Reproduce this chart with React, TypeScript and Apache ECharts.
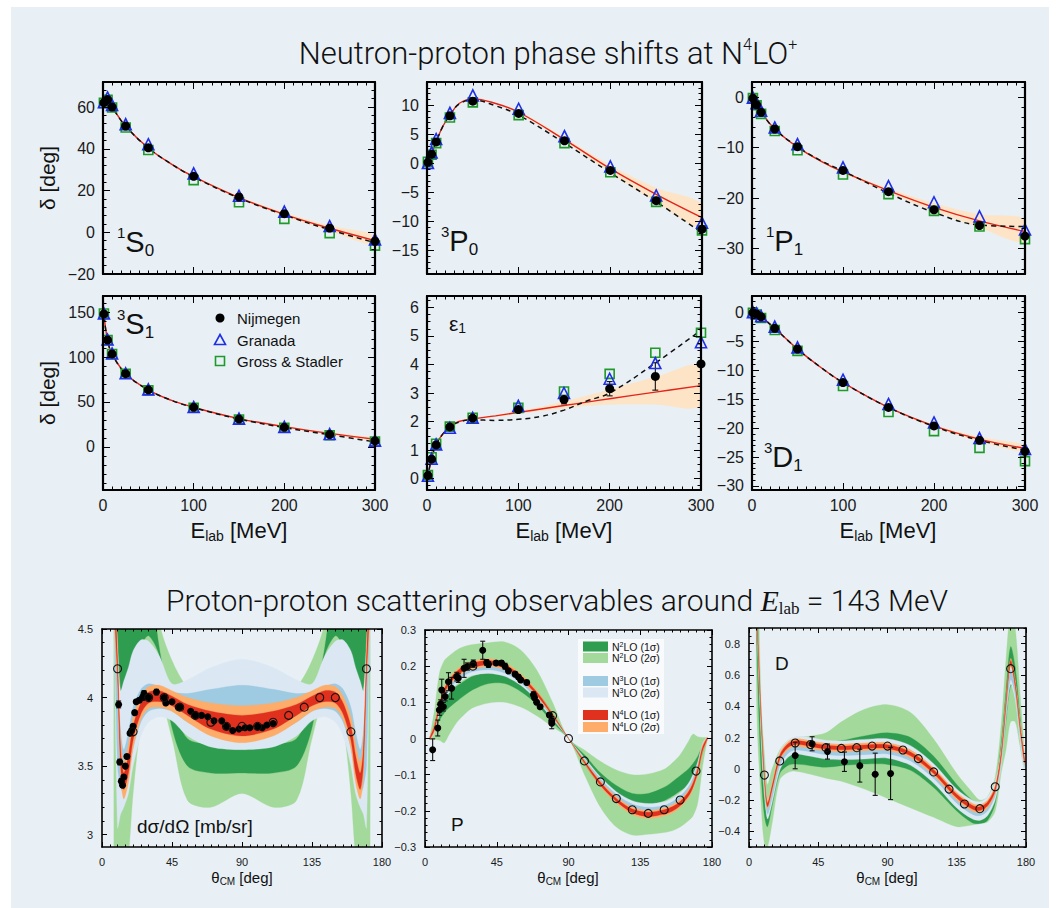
import React, { useEffect, useRef } from "react";
import * as echarts from "echarts";

const SANS = "'Liberation Sans', Helvetica, Arial, sans-serif";
const LIGHT = "Roboto, 'Liberation Sans', sans-serif";
const SERIF = "'Liberation Serif', 'DejaVu Serif', serif";

// ================= Neutron-proton phase shifts (top) =================
const E_PWA = [1, 5, 10, 25, 50, 100, 150, 200, 250, 300];

// 1S0
const S10_NIJ = [62.1, 63.6, 60.0, 50.9, 40.5, 26.8, 16.9, 8.9, 2.0, -4.3];
const S10_GRA = [62.3, 64.6, 61.0, 51.8, 42.2, 28.2, 17.5, 9.9, 3.0, -3.4];
const S10_GS = [62.0, 63.5, 59.8, 50.2, 39.4, 25.0, 14.4, 6.4, -0.4, -6.4];
const S10_E = [1, 5, 10, 25, 50, 75, 100, 150, 200, 250, 300];
const S10_RED = [62.0, 63.6, 60.0, 50.8, 40.4, 32.8, 26.6, 16.6, 8.6, 1.9, -4.0];
const S10_DASH = [62.0, 63.6, 60.0, 50.8, 40.4, 32.8, 26.5, 16.4, 8.3, 1.2, -5.0];
const S10_LO = [62.0, 63.6, 60.0, 50.8, 40.3, 32.6, 26.3, 16.1, 7.8, 0.6, -6.3];
const S10_HI = [62.0, 63.6, 60.0, 50.8, 40.5, 33.0, 26.9, 17.1, 9.4, 3.2, -1.6];

// 3P0
const P30_NIJ = [0.2, 1.6, 3.7, 8.2, 10.7, 8.6, 3.9, -1.2, -6.4, -11.3];
const P30_GRA = [0.1, 1.9, 4.2, 8.7, 11.7, 9.4, 4.7, -0.5, -5.5, -10.2];
const P30_GS = [0.3, 1.5, 3.5, 7.9, 10.5, 8.3, 3.5, -1.5, -6.6, -11.5];
const P30_E = [0, 2, 5, 10, 17, 25, 35, 50, 75, 100, 150, 200, 250, 300];
const P30_RED = [0, 0.6, 1.7, 3.7, 6.3, 8.3, 10.3, 11.1, 10.3, 8.8, 4.1, -0.9, -5.3, -9.3];
const P30_DASH = [0, 0.6, 1.7, 3.7, 6.3, 8.3, 10.2, 10.9, 9.9, 8.3, 3.5, -1.6, -6.6, -11.9];
const P30_LO = [0, 0.6, 1.7, 3.7, 6.3, 8.3, 10.3, 11.0, 10.2, 8.6, 3.8, -1.6, -6.7, -11.1];
const P30_HI = [0, 0.6, 1.7, 3.7, 6.3, 8.3, 10.3, 11.2, 10.4, 9.0, 4.4, -0.3, -4.2, -7.0];

// 1P1
const P11_NIJ = [-0.2, -1.5, -3.0, -6.3, -9.8, -14.5, -18.7, -22.3, -25.4, -27.5];
const P11_GRA = [-0.1, -1.2, -2.7, -6.0, -9.3, -13.9, -17.6, -20.8, -23.6, -26.2];
const P11_GS = [-0.2, -1.6, -3.3, -6.7, -10.5, -15.3, -19.2, -22.5, -25.6, -28.1];
const P11_E = [0, 5, 10, 25, 50, 75, 100, 150, 200, 250, 300];
const P11_RED = [0, -1.5, -3.0, -6.3, -9.9, -12.6, -14.8, -18.5, -21.8, -24.5, -26.6];
const P11_DASH = [0, -1.5, -3.0, -6.3, -9.8, -12.5, -14.6, -19.0, -22.8, -25.3, -25.6];
const P11_LO = [0, -1.5, -3.0, -6.3, -10.0, -12.8, -15.0, -18.9, -22.5, -25.8, -28.7];
const P11_HI = [0, -1.5, -3.0, -6.3, -9.8, -12.4, -14.6, -18.1, -21.0, -23.2, -24.2];

// 3S1
const S31_NIJ = [148, 119, 103.5, 81.5, 63.5, 44, 31, 21.8, 13.8, 6.6];
const S31_GRA = [148.5, 119.5, 104, 82, 64, 44.5, 31.5, 22.3, 14.3, 7.0];
const S31_GS = [148.5, 119, 103.5, 81.5, 63, 43.5, 30.5, 21.3, 13, 6];
const S31_E = [0.3, 1, 5, 10, 25, 50, 75, 100, 150, 200, 250, 300];
const S31_RED = [165, 148, 119, 103.5, 81.5, 63.5, 52, 44, 31.5, 22.5, 15, 8.5];
const S31_DASH = [165, 148, 119, 103.5, 81.5, 63.5, 52, 43.8, 31, 21.5, 13.5, 5.5];
const S31_LO = [165, 148, 119, 103.5, 81.5, 63.4, 51.8, 43.7, 31, 21.8, 14, 7];
const S31_HI = [165, 148, 119, 103.5, 81.5, 63.6, 52.2, 44.3, 32, 23.2, 16, 10];

// epsilon1
const EP1_NIJ = [0.11, 0.68, 1.18, 1.81, 2.12, 2.42, 2.77, 3.15, 3.58, 4.02];
const EP1_ERR = [0, 0, 0, 0, 0, 0.05, 0.15, 0.25, 0.48, 0.7];
const EP1_GRA = [0.1, 0.7, 1.2, 1.78, 2.13, 2.55, 3.0, 3.5, 4.05, 4.78];
const EP1_GS = [0.12, 0.75, 1.22, 1.82, 2.13, 2.48, 3.05, 3.67, 4.41, 5.11];
const EP1_E = [0, 1, 5, 10, 17, 25, 35, 50, 75, 100, 125, 150, 175, 200, 250, 300];
const EP1_RED = [0, 0.12, 0.7, 1.2, 1.55, 1.82, 2.0, 2.09, 2.2, 2.32, 2.44, 2.56, 2.68, 2.8, 3.03, 3.26];
const EP1_DASH = [0, 0.12, 0.7, 1.2, 1.55, 1.82, 1.98, 2.06, 2.04, 2.08, 2.18, 2.4, 2.72, 3.0, 4.05, 5.2];
const EP1_LO = [0, 0.12, 0.7, 1.2, 1.55, 1.82, 2.0, 2.08, 2.17, 2.27, 2.37, 2.46, 2.55, 2.6, 2.6, 2.56];
const EP1_HI = [0, 0.12, 0.7, 1.2, 1.55, 1.82, 2.0, 2.1, 2.23, 2.37, 2.52, 2.7, 2.9, 3.12, 3.55, 3.96];

// 3D1
const D31_NIJ = [0, -0.2, -0.7, -2.7, -6.3, -12.1, -16.4, -19.6, -22.1, -24.0];
const D31_GRA = [0.1, -0.1, -0.6, -2.4, -6.0, -11.6, -15.8, -19.0, -21.7, -23.6];
const D31_GS = [0, -0.3, -0.9, -3.0, -6.6, -12.7, -17.2, -20.5, -23.4, -25.7];
const D31_E = [0, 5, 10, 25, 50, 75, 100, 150, 200, 250, 300];
const D31_RED = [0, -0.2, -0.7, -2.7, -6.3, -9.4, -12.1, -16.4, -19.6, -21.9, -23.5];
const D31_DASH = [0, -0.2, -0.7, -2.7, -6.3, -9.4, -12.1, -16.4, -19.7, -22.1, -23.8];
const D31_LO = [0, -0.2, -0.7, -2.7, -6.3, -9.4, -12.1, -16.5, -19.8, -22.3, -24.1];
const D31_HI = [0, -0.2, -0.7, -2.7, -6.3, -9.4, -12.1, -16.3, -19.4, -21.5, -22.9];

// ================= Proton-proton observables (bottom) =================
// differential cross section
const XS_TH = [8, 10, 12, 14, 17, 20, 25, 30, 37, 45, 55, 70, 90, 110, 125, 135, 143, 150, 155, 160, 163, 166, 168, 170, 172];
const XS_N2_LO2 = [1.5, 2.3, 2.6, 2.7, 2.85, 3.3, 3.8, 4.0, 4.0, 3.7, 3.25, 3.2, 3.3, 3.2, 3.25, 3.7, 4.0, 4.0, 3.8, 3.3, 2.85, 2.7, 2.6, 2.3, 1.5];
const XS_N2_LO1 = [5.0, 4.2, 4.0, 4.05, 4.12, 4.25, 4.38, 4.45, 4.3, 3.78, 3.5, 3.45, 3.45, 3.45, 3.5, 3.78, 4.3, 4.45, 4.38, 4.25, 4.12, 4.05, 4.0, 4.2, 5.0];
const XS_N2_HI1 = [5.5, 5.5, 5.5, 5.5, 5.5, 5.5, 5.5, 5.0, 4.35, 3.95, 3.7, 3.66, 3.65, 3.66, 3.7, 3.95, 4.35, 5.0, 5.5, 5.5, 5.5, 5.5, 5.5, 5.5, 5.5];
const XS_N2_HI2 = [6.5, 6.5, 6.5, 6.5, 6.5, 6.5, 6.5, 5.6, 4.55, 4.27, 4.07, 3.9, 3.88, 3.9, 4.07, 4.27, 4.55, 5.6, 6.5, 6.5, 6.5, 6.5, 6.5, 6.5, 6.5];
const XS_N3_LO2 = [4.5, 3.05, 3.15, 3.2, 3.3, 3.5, 3.72, 3.82, 3.86, 3.83, 3.72, 3.64, 3.62, 3.64, 3.72, 3.83, 3.86, 3.82, 3.72, 3.5, 3.3, 3.2, 3.15, 3.05, 4.5];
const XS_N3_LO1 = [4.6, 3.5, 3.35, 3.3, 3.42, 3.63, 3.82, 3.9, 3.92, 3.9, 3.82, 3.74, 3.7, 3.74, 3.82, 3.9, 3.92, 3.9, 3.82, 3.63, 3.42, 3.3, 3.35, 3.5, 4.6];
const XS_N3_HI1 = [4.75, 4.1, 3.75, 3.62, 3.75, 3.93, 4.06, 4.1, 4.08, 4.04, 4.03, 4.06, 4.09, 4.06, 4.03, 4.04, 4.08, 4.1, 4.06, 3.93, 3.75, 3.62, 3.75, 4.1, 4.75];
const XS_N3_HI2 = [4.85, 4.4, 4.05, 4.12, 4.22, 4.34, 4.42, 4.41, 4.3, 4.1, 4.13, 4.22, 4.28, 4.22, 4.13, 4.1, 4.3, 4.41, 4.42, 4.34, 4.22, 4.12, 4.05, 4.4, 4.85];
const XS_N4_LO2 = [4.55, 4.1, 3.42, 3.26, 3.38, 3.63, 3.84, 3.92, 3.93, 3.9, 3.82, 3.72, 3.67, 3.72, 3.82, 3.9, 3.93, 3.92, 3.84, 3.63, 3.38, 3.26, 3.42, 4.1, 4.55];
const XS_N4_LO1 = [4.65, 4.15, 3.5, 3.33, 3.45, 3.69, 3.88, 3.96, 3.97, 3.94, 3.87, 3.77, 3.72, 3.77, 3.87, 3.94, 3.97, 3.96, 3.88, 3.69, 3.45, 3.33, 3.5, 4.15, 4.65];
const XS_N4_HI1 = [4.8, 4.27, 3.62, 3.45, 3.58, 3.79, 3.96, 4.04, 4.05, 4.01, 3.95, 3.9, 3.87, 3.9, 3.95, 4.01, 4.05, 4.04, 3.96, 3.79, 3.58, 3.45, 3.62, 4.27, 4.8];
const XS_N4_HI2 = [4.9, 4.33, 3.7, 3.53, 3.66, 3.86, 4.01, 4.08, 4.09, 4.05, 4.0, 3.96, 3.94, 3.96, 4.0, 4.05, 4.09, 4.08, 4.01, 3.86, 3.66, 3.53, 3.7, 4.33, 4.9];
const XS_EXP_TH = [10.7, 11.4, 12.4, 13.2, 14, 15, 16, 18, 19, 20, 21, 22, 24, 26, 27, 28, 30, 35, 40, 41, 45, 49, 50, 57, 60, 64, 68, 72, 77, 80, 84, 88, 92, 95, 100, 103, 106, 110];
const XS_EXP = [3.95, 3.53, 3.39, 3.36, 3.42, 3.5, 3.57, 3.74, 3.76, 3.79, 3.89, 3.97, 3.98, 4.0, 4.03, 4.01, 4.0, 4.04, 4.0, 3.96, 3.97, 3.93, 3.93, 3.9, 3.87, 3.87, 3.86, 3.83, 3.83, 3.79, 3.76, 3.77, 3.78, 3.78, 3.79, 3.78, 3.8, 3.81];
const XS_EXP_ERR = [0.025, 0.02, 0.02, 0.015, 0.015, 0.015, 0.015, 0.015, 0.015, 0.015, 0.015, 0.015, 0.015, 0.02, 0.02, 0.015, 0.015, 0.02, 0.015, 0.015, 0.01, 0.01, 0.01, 0.01, 0.01, 0.01, 0.01, 0.01, 0.01, 0.01, 0.01, 0.01, 0.01, 0.01, 0.01, 0.01, 0.01, 0.01];
const XS_PWA_TH = [10, 20, 30, 40, 50, 60, 70, 80, 90, 100, 110, 120, 130, 140, 150, 160, 170];
const XS_PWA = [4.21, 3.75, 4.0, 4.0, 3.93, 3.87, 3.82, 3.79, 3.79, 3.79, 3.82, 3.87, 3.93, 4.0, 4.0, 3.75, 4.21];

// analyzing power P
const P_TH = [3, 6, 9, 12, 15, 20, 25, 30, 40, 50, 60, 70, 80, 90, 100, 110, 120, 130, 140, 150, 155, 160, 165, 168, 171, 174, 177];
const P_N2_LO2 = [-0.002, -0.003, -0.005, -0.012, 0.01, 0.045, 0.068, 0.085, 0.098, 0.1, 0.087, 0.063, 0.032, 0, -0.1, -0.19, -0.245, -0.267, -0.265, -0.26, -0.255, -0.245, -0.228, -0.215, -0.18, -0.08, -0.003];
const P_N2_LO1 = [0.0, 0.02, 0.05, 0.07, 0.085, 0.103, 0.12, 0.135, 0.152, 0.152, 0.13, 0.095, 0.045, 0, -0.07, -0.13, -0.165, -0.182, -0.183, -0.172, -0.16, -0.145, -0.13, -0.115, -0.09, -0.04, -0.002];
const P_N2_HI1 = [0.002, 0.04, 0.09, 0.115, 0.13, 0.145, 0.16, 0.172, 0.183, 0.182, 0.165, 0.13, 0.07, 0, -0.045, -0.095, -0.13, -0.152, -0.152, -0.135, -0.12, -0.103, -0.085, -0.07, -0.05, -0.02, 0.0];
const P_N2_HI2 = [0.003, 0.08, 0.18, 0.215, 0.228, 0.245, 0.255, 0.26, 0.265, 0.267, 0.245, 0.19, 0.1, 0, -0.032, -0.063, -0.087, -0.1, -0.098, -0.085, -0.068, -0.045, -0.01, 0.012, 0.005, 0.003, 0.002];
const P_N3_LO2 = [-0.005, 0.015, 0.065, 0.1, 0.125, 0.15, 0.165, 0.175, 0.18, 0.172, 0.147, 0.106, 0.053, 0, -0.066, -0.126, -0.175, -0.207, -0.217, -0.21, -0.202, -0.187, -0.162, -0.14, -0.098, -0.036, -0.004];
const P_N3_LO1 = [-0.003, 0.02, 0.073, 0.11, 0.135, 0.16, 0.175, 0.185, 0.19, 0.181, 0.154, 0.111, 0.057, 0, -0.063, -0.121, -0.168, -0.198, -0.208, -0.201, -0.193, -0.178, -0.153, -0.13, -0.09, -0.03, -0.002];
const P_N3_HI1 = [0.002, 0.03, 0.09, 0.13, 0.153, 0.178, 0.193, 0.201, 0.208, 0.198, 0.168, 0.121, 0.063, 0, -0.057, -0.111, -0.154, -0.181, -0.19, -0.185, -0.175, -0.16, -0.135, -0.11, -0.073, -0.02, 0.003];
const P_N3_HI2 = [0.004, 0.036, 0.098, 0.14, 0.162, 0.187, 0.202, 0.21, 0.217, 0.207, 0.175, 0.126, 0.066, 0, -0.053, -0.106, -0.147, -0.172, -0.18, -0.175, -0.165, -0.15, -0.125, -0.1, -0.065, -0.015, 0.005];
const P_N4_LO2 = [-0.004, 0.02, 0.079, 0.119, 0.144, 0.169, 0.184, 0.192, 0.199, 0.19, 0.161, 0.117, 0.06, 0, -0.07, -0.133, -0.179, -0.21, -0.221, -0.214, -0.206, -0.191, -0.166, -0.141, -0.101, -0.04, -0.004];
const P_N4_LO1 = [-0.002, 0.025, 0.084, 0.124, 0.149, 0.174, 0.189, 0.197, 0.204, 0.195, 0.166, 0.121, 0.063, 0, -0.067, -0.129, -0.174, -0.205, -0.216, -0.209, -0.201, -0.186, -0.161, -0.136, -0.096, -0.035, -0.002];
const P_N4_HI1 = [0.002, 0.035, 0.096, 0.136, 0.161, 0.186, 0.201, 0.209, 0.216, 0.205, 0.174, 0.129, 0.067, 0, -0.063, -0.121, -0.166, -0.195, -0.204, -0.197, -0.189, -0.174, -0.149, -0.124, -0.084, -0.025, 0.002];
const P_N4_HI2 = [0.004, 0.04, 0.101, 0.141, 0.166, 0.191, 0.206, 0.214, 0.221, 0.21, 0.179, 0.133, 0.07, 0, -0.06, -0.117, -0.161, -0.19, -0.199, -0.192, -0.184, -0.169, -0.144, -0.119, -0.079, -0.02, 0.004];
const P_EXP_TH = [4.8, 8, 9, 9.8, 10.5, 11.5, 12.6, 14.7, 16.7, 19.9, 20.9, 24.5, 26.6, 30.3, 36.2, 38.7, 39.8, 44.6, 48, 50.2, 52.3, 56.5, 58.6, 60, 63.8, 68, 68.7, 70, 72.2, 78, 79.5, 79.5];
const P_EXP = [-0.031, 0.029, 0.079, 0.095, 0.134, 0.088, 0.116, 0.157, 0.139, 0.171, 0.167, 0.194, 0.199, 0.207, 0.244, 0.21, 0.205, 0.209, 0.209, 0.2, 0.187, 0.178, 0.17, 0.162, 0.155, 0.121, 0.113, 0.1, 0.088, 0.065, 0.049, 0.042];
const P_EXP_ERR = [0.03, 0.022, 0.015, 0.012, 0.03, 0.012, 0.012, 0.025, 0.03, 0.012, 0.012, 0.025, 0.01, 0.01, 0.025, 0.008, 0.008, 0.006, 0.006, 0.008, 0.006, 0.006, 0.006, 0.006, 0.006, 0.008, 0.006, 0.006, 0.006, 0.006, 0.012, 0.015];
const P_PWA_TH = [30, 80, 90, 100, 110, 120, 130, 140, 150, 160, 170];
const P_PWA = [0.2, 0.063, 0, -0.062, -0.12, -0.166, -0.197, -0.207, -0.197, -0.17, -0.09];

// depolarization D
const D_TH = [5, 8, 10, 12, 15, 20, 25, 30, 40, 50, 60, 75, 90, 105, 120, 135, 145, 150, 155, 160, 164, 167, 170, 173, 176, 179];
const D_N2_LO2 = [0.4, -0.25, -0.48, -0.5, -0.35, -0.07, -0.025, -0.015, -0.035, -0.06, -0.08, -0.13, -0.19, -0.25, -0.31, -0.37, -0.36, -0.35, -0.34, -0.27, -0.02, 0.12, 0.3, 0.3, 0.15, -0.01];
const D_N2_LO1 = [0.8, -0.05, -0.3, -0.37, -0.24, -0.03, 0.02, 0.03, 0.02, 0.01, 0.02, 0.03, 0.028, -0.01, -0.12, -0.27, -0.345, -0.35, -0.33, -0.22, 0.05, 0.3, 0.53, 0.5, 0.25, 0.02];
const D_N2_HI1 = [1.2, 0.1, -0.2, -0.3, -0.15, 0.05, 0.13, 0.16, 0.17, 0.17, 0.18, 0.21, 0.23, 0.2, 0.08, -0.1, -0.2, -0.22, -0.2, -0.1, 0.18, 0.5, 0.78, 0.65, 0.35, 0.05];
const D_N2_HI2 = [1.5, 0.4, 0.1, -0.1, 0.0, 0.12, 0.18, 0.2, 0.21, 0.23, 0.3, 0.38, 0.41, 0.36, 0.19, -0.03, -0.15, -0.2, -0.18, -0.05, 0.3, 0.7, 1.0, 0.9, 0.5, 0.1];
const D_N3_LO2 = [0.94, 0.19, -0.14, -0.32, -0.22, -0.01, 0.07, 0.095, 0.08, 0.062, 0.058, 0.062, 0.068, 0.022, -0.092, -0.25, -0.32, -0.33, -0.3, -0.2, 0.02, 0.32, 0.54, 0.44, 0.19, -0.02];
const D_N3_LO1 = [0.97, 0.22, -0.11, -0.29, -0.19, 0.02, 0.095, 0.12, 0.108, 0.09, 0.085, 0.09, 0.095, 0.05, -0.062, -0.22, -0.29, -0.3, -0.27, -0.17, 0.05, 0.35, 0.57, 0.47, 0.22, 0.01];
const D_N3_HI1 = [1.03, 0.28, -0.05, -0.23, -0.13, 0.08, 0.155, 0.18, 0.172, 0.154, 0.151, 0.16, 0.165, 0.12, 0.002, -0.16, -0.23, -0.24, -0.21, -0.11, 0.11, 0.41, 0.63, 0.53, 0.28, 0.07];
const D_N3_HI2 = [1.06, 0.31, -0.02, -0.2, -0.1, 0.11, 0.18, 0.205, 0.2, 0.182, 0.178, 0.188, 0.192, 0.148, 0.032, -0.13, -0.2, -0.21, -0.18, -0.08, 0.14, 0.44, 0.66, 0.56, 0.31, 0.1];
const D_N4_LO2 = [0.975, 0.275, -0.075, -0.255, -0.145, 0.05, 0.12, 0.143, 0.13, 0.113, 0.108, 0.115, 0.117, 0.07, -0.043, -0.2, -0.27, -0.28, -0.25, -0.155, 0.075, 0.395, 0.655, 0.515, 0.255, 0.025];
const D_N4_LO1 = [0.988, 0.288, -0.062, -0.242, -0.132, 0.063, 0.133, 0.156, 0.143, 0.126, 0.121, 0.128, 0.13, 0.083, -0.03, -0.187, -0.257, -0.267, -0.237, -0.142, 0.088, 0.408, 0.668, 0.528, 0.268, 0.038];
const D_N4_HI1 = [1.012, 0.312, -0.038, -0.218, -0.108, 0.087, 0.157, 0.18, 0.167, 0.15, 0.145, 0.152, 0.154, 0.107, -0.006, -0.163, -0.233, -0.243, -0.213, -0.118, 0.112, 0.432, 0.692, 0.552, 0.292, 0.062];
const D_N4_HI2 = [1.025, 0.325, -0.025, -0.205, -0.095, 0.1, 0.17, 0.193, 0.18, 0.163, 0.158, 0.165, 0.167, 0.12, 0.007, -0.15, -0.22, -0.23, -0.2, -0.105, 0.125, 0.445, 0.705, 0.565, 0.305, 0.075];
const D_EXP_TH = [30, 41, 51, 62, 72, 82, 92];
const D_EXP = [0.085, 0.16, 0.11, 0.045, 0.02, -0.035, -0.03];
const D_EXP_ERR = [0.085, 0.045, 0.048, 0.062, 0.105, 0.135, 0.167];
const D_PWA_TH = [10, 20, 30, 40, 50, 60, 70, 80, 90, 100, 110, 120, 130, 140, 150, 160, 170];
const D_PWA = [-0.04, 0.05, 0.165, 0.155, 0.135, 0.13, 0.135, 0.145, 0.145, 0.12, 0.065, -0.02, -0.13, -0.225, -0.255, -0.115, 0.64];

// tick labels & legends
const E_TICKS = [0, 100, 200, 300];
const TH_TICKS = [0, 45, 90, 135, 180];
const LEGEND_PWA = ["Nijmegen", "Granada", "Gross & Stadler"];
const LEGEND_ORDERS = [
  ["N", "2", "LO (1σ)"],
  ["N", "2", "LO (2σ)"],
  ["N", "3", "LO (1σ)"],
  ["N", "3", "LO (2σ)"],
  ["N", "4", "LO (1σ)"],
  ["N", "4", "LO (2σ)"],
];

const COL = {
  bg: "#e8f0f6",
  red: "#e3241b",
  band: "#fde4c6",
  blue: "#1f2fe6",
  green: "#1e9a28",
  n2a: "#2f9d4f",
  n2b: "#a3d99b",
  n3a: "#9ecae2",
  n3b: "#dbe8f4",
  n4a: "#e0311f",
  n4b: "#fdad69",
};

function seq(a: number, b: number, s: number): number[] {
  const out: number[] = [];
  const n = Math.round((b - a) / s);
  for (let i = 0; i <= n; i++) out.push(Math.round((a + i * s) * 1e6) / 1e6);
  return out;
}
const pts = (xs: number[], ys: number[]) => xs.map((x, i) => [x, ys[i]]);
const fmt = (v: number) => (v < 0 ? "\u2212" + String(Math.abs(v)) : String(v));

function buildOption() {
  const grids: any[] = [];
  const xAxes: any[] = [];
  const yAxes: any[] = [];
  const series: any[] = [];
  const graphic: any[] = [];

  function mkAxes(dim: string, g: number, min: number, max: number, major: number[], minor: number[], labels: boolean, fs: number, lw: number, tl: number, tm: number, margin: number) {
    const arr = dim === "x" ? xAxes : yAxes;
    const idx = arr.length;
    const p1 = dim === "x" ? "bottom" : "left";
    const p2 = dim === "x" ? "top" : "right";
    const mj = major.filter((v) => v >= min - 1e-9 && v <= max + 1e-9);
    const mn = minor.filter((v) => v >= min - 1e-9 && v <= max + 1e-9);
    const base = { type: "value", gridIndex: g, min, max, splitLine: { show: false }, splitArea: { show: false }, axisPointer: { show: false }, silent: true, z: 6 };
    const line = { show: true, onZero: false, lineStyle: { color: "#000", width: lw } };
    const noLine = { show: false, onZero: false };
    const tick = (vals: number[], len: number) => ({ show: true, inside: true, length: len, customValues: vals, lineStyle: { color: "#000", width: 1 } });
    arr.push({ ...base, position: p1, axisLine: line, axisTick: tick(mj, tl), axisLabel: { show: labels, customValues: mj, fontSize: fs, color: "#1a1a1a", fontFamily: SANS, margin, formatter: fmt } });
    arr.push({ ...base, position: p1, axisLine: noLine, axisTick: tick(mn, tm), axisLabel: { show: false } });
    arr.push({ ...base, position: p2, axisLine: line, axisTick: tick(mj, tl), axisLabel: { show: false } });
    arr.push({ ...base, position: p2, axisLine: noLine, axisTick: tick(mn, tm), axisLabel: { show: false } });
    return idx;
  }

  function panel(box: number[], xr: number[], xMajor: number[], xMinor: number[], xLabels: boolean, yr: number[], yMajor: number[], yMinor: number[], small: boolean) {
    const g = grids.length;
    grids.push({ left: box[0], top: box[1], width: box[2], height: box[3], containLabel: false, outerBoundsMode: "none", show: false });
    const fs = small ? 11 : 16;
    const lw = small ? 1.6 : 2.2;
    const tl = small ? 5 : 7;
    const tm = small ? 2.5 : 3.5;
    const xi = mkAxes("x", g, xr[0], xr[1], xMajor, xMinor, xLabels, fs, lw, tl, tm, small ? 9 : 7);
    const yi = mkAxes("y", g, yr[0], yr[1], yMajor, yMinor, true, fs, lw, tl, tm, small ? 9 : 8);
    return { xi, yi };
  }

  // uncertainty band drawn as one smoothed polygon through the library's coordinate mapping
  function band(ax: any, xs: number[], lo: number[], hi: number[], color: string, smooth: number) {
    series.push({
      type: "custom",
      xAxisIndex: ax.xi,
      yAxisIndex: ax.yi,
      silent: true,
      clip: true,
      z: 1,
      encode: { x: 0, y: [1, 2] },
      data: xs.map((x, i) => [x, lo[i], hi[i]]),
      renderItem: (params: any, api: any) => {
        if (params.dataIndex !== 0) return null;
        const up = xs.map((x, i) => api.coord([x, hi[i]]));
        const dn = xs.map((x, i) => api.coord([x, lo[i]])).reverse();
        return { type: "polygon", shape: { points: up.concat(dn), smooth }, style: { fill: color, stroke: color, lineWidth: 0.3 } };
      },
    });
  }

  function curve(ax: any, xs: number[], ys: number[], color: string, width: number, type: any) {
    series.push({ type: "line", xAxisIndex: ax.xi, yAxisIndex: ax.yi, data: pts(xs, ys), smooth: 0.4, symbol: "none", showSymbol: false, silent: true, clip: true, z: 3, lineStyle: { color, width, type }, emphasis: { disabled: true } });
  }

  function marks(ax: any, xs: number[], ys: number[], symbol: string, size: number, fill: string, stroke: string, bw: number, z: number) {
    series.push({ type: "scatter", xAxisIndex: ax.xi, yAxisIndex: ax.yi, data: pts(xs, ys), symbol, symbolSize: size, silent: true, z, emphasis: { disabled: true }, itemStyle: { color: fill, borderColor: stroke, borderWidth: bw, opacity: 1 } });
  }

  function errbars(ax: any, xs: number[], ys: number[], es: number[], cap: number) {
    const data: number[][] = [];
    xs.forEach((x, i) => {
      if (es[i] > 0) data.push([x, ys[i], es[i]]);
    });
    series.push({
      type: "custom",
      xAxisIndex: ax.xi,
      yAxisIndex: ax.yi,
      silent: true,
      clip: true,
      z: 4,
      encode: { x: 0, y: 1 },
      data,
      renderItem: (params: any, api: any) => {
        const x = api.value(0);
        const y = api.value(1);
        const e = api.value(2);
        const a = api.coord([x, y - e]);
        const b = api.coord([x, y + e]);
        const st = { stroke: "#111", lineWidth: 1.1 };
        return {
          type: "group",
          children: [
            { type: "line", shape: { x1: a[0], y1: a[1], x2: b[0], y2: b[1] }, style: st },
            { type: "line", shape: { x1: a[0] - cap, y1: a[1], x2: a[0] + cap, y2: a[1] }, style: st },
            { type: "line", shape: { x1: b[0] - cap, y1: b[1], x2: b[0] + cap, y2: b[1] }, style: st },
          ],
        };
      },
    });
  }

  // ------------- top panels -------------
  const EMIN = seq(0, 300, 10);
  const topPanels = [
    { box: [103, 82, 272, 192], yr: [-20, 72], yMaj: [-20, 0, 20, 40, 60], yMin: seq(-20, 72, 4), xl: false, d: [S10_NIJ, S10_GRA, S10_GS, S10_E, S10_RED, S10_DASH, S10_LO, S10_HI] },
    { box: [427, 82, 275, 192], yr: [-19, 14], yMaj: [-15, -10, -5, 0, 5, 10], yMin: seq(-19, 14, 1), xl: false, d: [P30_NIJ, P30_GRA, P30_GS, P30_E, P30_RED, P30_DASH, P30_LO, P30_HI] },
    { box: [752, 82, 273, 192], yr: [-35, 3], yMaj: [-30, -20, -10, 0], yMin: seq(-34, 2, 2), xl: false, d: [P11_NIJ, P11_GRA, P11_GS, P11_E, P11_RED, P11_DASH, P11_LO, P11_HI] },
    { box: [103, 296, 272, 194], yr: [-48, 168], yMaj: [0, 50, 100, 150], yMin: seq(-40, 160, 10), xl: true, d: [S31_NIJ, S31_GRA, S31_GS, S31_E, S31_RED, S31_DASH, S31_LO, S31_HI] },
    { box: [427, 296, 274, 194], yr: [-0.4, 6.4], yMaj: [0, 1, 2, 3, 4, 5, 6], yMin: seq(-0.25, 6.25, 0.25), xl: true, d: [EP1_NIJ, EP1_GRA, EP1_GS, EP1_E, EP1_RED, EP1_DASH, EP1_LO, EP1_HI] },
    { box: [752, 296, 273, 194], yr: [-30.7, 2.9], yMaj: [-30, -25, -20, -15, -10, -5, 0], yMin: seq(-30, 2, 1), xl: true, d: [D31_NIJ, D31_GRA, D31_GS, D31_E, D31_RED, D31_DASH, D31_LO, D31_HI] },
  ];
  topPanels.forEach((p, k) => {
    const ax = panel(p.box, [0, 300], E_TICKS, EMIN, p.xl, p.yr, p.yMaj, p.yMin, false);
    const [nij, gra, gs, ex, red, dash, lo, hi] = p.d;
    band(ax, ex, lo, hi, COL.band, 0.35);
    curve(ax, ex, red, COL.red, 1.4, "solid");
    curve(ax, ex, dash, "#111", 1.5, [5, 4]);
    marks(ax, E_PWA, gs, "rect", 9, "rgba(0,0,0,0)", COL.green, 1.6, 5);
    marks(ax, E_PWA, gra, "triangle", 11, "rgba(0,0,0,0)", COL.blue, 1.6, 5);
    if (k === 4) errbars(ax, E_PWA, nij, EP1_ERR, 3);
    marks(ax, E_PWA, nij, "circle", 9, "#000", "#000", 0, 5);
  });

  // ------------- bottom panels -------------
  const THMIN = seq(0, 180, 5);
  const bottom = [
    { box: [102, 629, 280, 218], yr: [2.91, 4.5], yMaj: [3, 3.5, 4, 4.5], yMin: seq(3, 4.5, 0.1), th: XS_TH,
      n2: [XS_N2_LO2, XS_N2_LO1, XS_N2_HI1, XS_N2_HI2], n3: [XS_N3_LO2, XS_N3_LO1, XS_N3_HI1, XS_N3_HI2], n4: [XS_N4_LO2, XS_N4_LO1, XS_N4_HI1, XS_N4_HI2],
      ex: [XS_EXP_TH, XS_EXP, XS_EXP_ERR], pw: [XS_PWA_TH, XS_PWA] },
    { box: [425, 630, 287, 217], yr: [-0.3, 0.3], yMaj: [-0.3, -0.2, -0.1, 0, 0.1, 0.2, 0.3], yMin: seq(-0.3, 0.3, 0.02), th: P_TH,
      n2: [P_N2_LO2, P_N2_LO1, P_N2_HI1, P_N2_HI2], n3: [P_N3_LO2, P_N3_LO1, P_N3_HI1, P_N3_HI2], n4: [P_N4_LO2, P_N4_LO1, P_N4_HI1, P_N4_HI2],
      ex: [P_EXP_TH, P_EXP, P_EXP_ERR], pw: [P_PWA_TH, P_PWA] },
    { box: [749, 628, 277, 219], yr: [-0.5, 0.9], yMaj: [-0.4, -0.2, 0, 0.2, 0.4, 0.6, 0.8], yMin: seq(-0.5, 0.9, 0.05), th: D_TH,
      n2: [D_N2_LO2, D_N2_LO1, D_N2_HI1, D_N2_HI2], n3: [D_N3_LO2, D_N3_LO1, D_N3_HI1, D_N3_HI2], n4: [D_N4_LO2, D_N4_LO1, D_N4_HI1, D_N4_HI2],
      ex: [D_EXP_TH, D_EXP, D_EXP_ERR], pw: [D_PWA_TH, D_PWA] },
  ];
  bottom.forEach((p) => {
    const ax = panel(p.box, [0, 180], TH_TICKS, THMIN, true, p.yr, p.yMaj, p.yMin, true);
    const orders = [
      [p.n2, COL.n2b, COL.n2a],
      [p.n3, COL.n3b, COL.n3a],
      [p.n4, COL.n4b, COL.n4a],
    ] as any[];
    orders.forEach(([b, c2, c1]) => {
      band(ax, p.th, b[0], b[3], c2, 0.3);
      band(ax, p.th, b[1], b[2], c1, 0.3);
    });
    errbars(ax, p.ex[0], p.ex[1], p.ex[2], 2.5);
    marks(ax, p.ex[0], p.ex[1], "circle", 7, "#000", "#000", 0, 5);
    marks(ax, p.pw[0], p.pw[1], "circle", 8, "rgba(0,0,0,0)", "#111", 1.1, 5);
  });

  // ------------- texts -------------
  const sub = (fs: number) => ({ fontSize: fs, lineHeight: fs, verticalAlign: "bottom", fontFamily: SANS, fill: "#111" });
  const sup = (fs: number) => ({ fontSize: fs, lineHeight: fs, verticalAlign: "top", fontFamily: SANS, fill: "#111" });
  const txt = (x: number, y: number, text: string, style: any, extra: any = {}) =>
    graphic.push({ type: "text", x, y, z: 50, silent: true, ...extra, style: { text, fill: "#111", fontFamily: SANS, align: "left", verticalAlign: "middle", ...style } });

  graphic.push({ type: "rect", silent: true, z: -10, shape: { x: 11, y: 7, width: 1038, height: 901 }, style: { fill: COL.bg } });

  txt(548, 53, "Neutron-proton phase shifts at N{s|4}LO{s|+}", {
    align: "center", fontSize: 31, fontFamily: LIGHT, fontWeight: 300, lineHeight: 34,
    rich: { s: { fontSize: 16, lineHeight: 16, verticalAlign: "top", fontFamily: LIGHT, fontWeight: 300, fill: "#111" } },
  });
  txt(557, 600, "Proton-proton scattering observables around {i|E}{l|lab} = 143 MeV", {
    align: "center", fontSize: 30, fontFamily: LIGHT, fontWeight: 300, lineHeight: 34,
    rich: {
      i: { fontSize: 30, lineHeight: 34, fontFamily: SERIF, fontStyle: "italic", fill: "#111" },
      l: { fontSize: 17, lineHeight: 17, verticalAlign: "bottom", fontFamily: SERIF, fill: "#111" },
    },
  });

  // y titles
  [178, 393].forEach((y) => txt(47, y, "δ [deg]", { align: "center", fontSize: 21 }, { rotation: Math.PI / 2 }));
  // x titles (E_lab)
  [239, 564, 888].forEach((x) =>
    txt(x, 530, "{a|E}{b|lab}{a| [MeV]}", { align: "center", rich: { a: { fontSize: 22, lineHeight: 26, fontFamily: SANS, fill: "#111" }, b: sub(14) } })
  );
  // x titles (theta_CM)
  [242, 568, 887].forEach((x) =>
    txt(x, 877, "{a|θ}{b|CM}{a| [deg]}", { align: "center", rich: { a: { fontSize: 15, lineHeight: 18, fontFamily: SANS, fill: "#111" }, b: sub(10) } })
  );

  // panel labels
  const wave = (x: number, y: number, s: string, l: string, j: string) =>
    txt(x, y, `{p|${s}}{m|${l}}{q|${j}}`, { rich: { p: sup(15), m: { fontSize: 29, lineHeight: 34, fontFamily: SANS, fill: "#111" }, q: sub(17) } });
  wave(117, 242, "1", "S", "0");
  wave(441, 241, "3", "P", "0");
  wave(766, 241, "1", "P", "1");
  wave(117, 324, "3", "S", "1");
  wave(764, 457, "3", "D", "1");
  txt(449, 323, "{m|ε}{q|1}", { rich: { m: { fontSize: 21, lineHeight: 24, fontFamily: SANS, fill: "#111" }, q: sub(14) } });
  txt(137, 826, "dσ/dΩ [mb/sr]", { fontSize: 19 });
  txt(451, 824, "P", { fontSize: 19 });
  txt(775, 663, "D", { fontSize: 19 });

  // legend (phase shift analyses)
  const ly = [318, 340, 361];
  graphic.push({ type: "circle", z: 50, silent: true, shape: { cx: 220, cy: ly[0], r: 4.5 }, style: { fill: "#000" } });
  graphic.push({ type: "polygon", z: 50, silent: true, shape: { points: [[214.5, ly[1] + 4.5], [225.5, ly[1] + 4.5], [220, ly[1] - 5.5]] }, style: { fill: "none", stroke: COL.blue, lineWidth: 1.6 } });
  graphic.push({ type: "rect", z: 50, silent: true, shape: { x: 215.5, y: ly[2] - 4.5, width: 9, height: 9 }, style: { fill: "none", stroke: COL.green, lineWidth: 1.6 } });
  LEGEND_PWA.forEach((t, i) => txt(237, ly[i], t, { fontSize: 15 }));

  // legend (chiral orders)
  graphic.push({ type: "rect", z: 49, silent: true, shape: { x: 578, y: 639, width: 86, height: 95 }, style: { fill: "#f8fafc" } });
  const rowY = [646.5, 658, 681, 692.5, 715, 727];
  const sw = [COL.n2a, COL.n2b, COL.n3a, COL.n3b, COL.n4a, COL.n4b];
  LEGEND_ORDERS.forEach((r, i) => {
    graphic.push({ type: "rect", z: 50, silent: true, shape: { x: 583, y: rowY[i] - 5, width: 25, height: 10 }, style: { fill: sw[i] } });
    txt(612, rowY[i], `${r[0]}{s|${r[1]}}${r[2]}`, { fontSize: 10.5, lineHeight: 12, rich: { s: { fontSize: 7, lineHeight: 7, verticalAlign: "top", fontFamily: SANS, fill: "#111" } } });
  });

  return {
    animation: false,
    backgroundColor: "#ffffff",
    textStyle: { fontFamily: SANS },
    grid: grids,
    xAxis: xAxes,
    yAxis: yAxes,
    series,
    graphic: { elements: graphic },
  };
}

export default function App() {
  const ref = useRef<HTMLDivElement>(null);
  useEffect(() => {
    if (!ref.current) return;
    const chart = echarts.init(ref.current, null, { renderer: "svg" });
    chart.setOption(buildOption() as any);
    return () => chart.dispose();
  }, []);
  return <div ref={ref} style={{ position: "absolute", left: 0, top: 0, width: 1056, height: 908 }} />;
}
